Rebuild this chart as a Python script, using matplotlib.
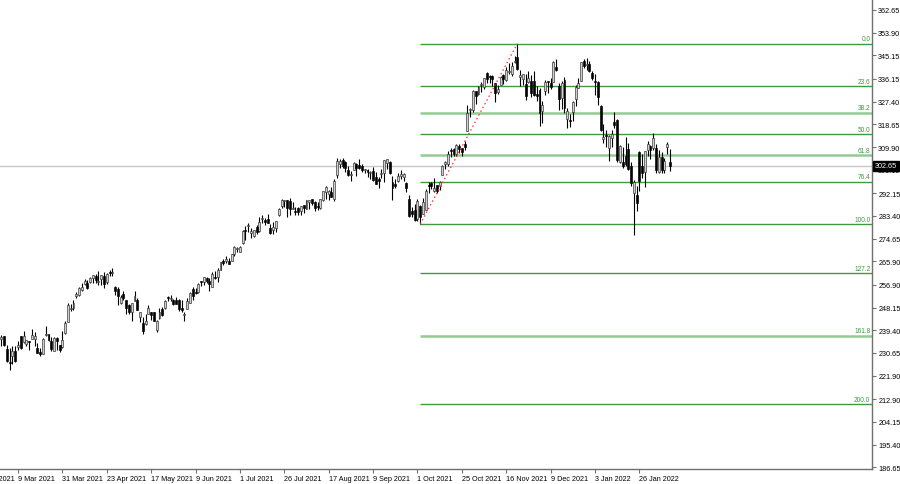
import matplotlib
matplotlib.use("Agg")
import matplotlib.pyplot as plt
import matplotlib.transforms as mtransforms
import numpy as np
import pandas as pd

plt.rcParams['font.family'] = ['Liberation Sans', 'DejaVu Sans']

# daily candles, 1 Mar 2021 .. 10 Feb 2022
holidays = ['2021-04-02', '2021-05-31', '2021-07-05', '2021-09-06',
            '2021-11-25', '2021-12-24', '2022-01-17']
dates = pd.bdate_range('2021-03-01', '2022-02-10', freq='C', holidays=holidays)

opens = [
    235.90, 237.01, 232.16, 226.74, 229.52, 231.37, 232.88, 237.00, 234.96, 234.01, 234.96, 236.15, 236.15, 232.56, 231.02, 230.27, 237.49, 237.85, 235.30, 231.55, 236.59, 233.53, 232.91,
    238.47, 242.76, 247.61, 247.81, 252.77, 252.87, 254.71, 257.26, 257.48, 257.93, 259.47, 260.19, 257.82, 258.94, 260.21, 257.88, 261.66, 261.58, 256.08, 255.46, 249.74,
    253.40, 250.97, 249.06, 246.45, 250.79, 250.87, 244.55, 242.17, 241.80, 245.58, 246.55, 246.27, 239.31, 243.96, 247.57, 247.79, 251.77, 251.43, 251.17, 251.00,
    251.23, 248.13, 245.22, 247.76, 249.98, 255.16, 253.81, 254.29, 257.99, 257.90, 259.67, 258.40, 256.07, 259.63, 259.82, 262.72, 265.99, 266.16, 266.23, 266.19, 268.87, 270.69,
    269.61, 272.82, 278.03, 279.40, 276.90, 275.72, 279.16, 277.52, 282.35, 282.00, 282.07, 278.93, 278.03, 278.90, 283.84, 287.37, 289.00, 289.43, 289.00, 286.24, 285.18,
    286.36, 285.42, 287.42, 286.22, 288.90, 289.75, 288.80, 287.21, 286.63, 289.48, 292.75, 291.95, 292.42, 289.75, 298.99, 303.25, 305.02, 304.30, 300.99, 298.99, 301.12, 303.25,
    302.87, 302.50, 301.12, 300.99, 299.78, 300.82, 298.42, 297.55, 299.56, 299.78, 303.76, 304.17, 296.33, 295.69, 296.73, 298.85, 298.23, 296.14, 289.80, 285.10, 285.71,
    282.12, 287.40, 284.05, 285.78, 295.18, 296.22, 292.92, 295.34, 294.91, 299.21, 303.57, 303.57, 308.35, 309.00, 307.36, 310.40, 309.36, 311.00, 316.00, 324.33, 324.13,
    331.36, 330.31, 333.90, 332.89, 338.51, 337.30, 337.11, 334.57, 331.13, 333.92, 337.54, 335.68, 338.94, 338.18, 342.64, 344.62, 337.05, 336.28, 334.35, 334.94, 335.32,
    335.13, 330.30, 331.99, 323.95, 331.64, 335.31, 334.41, 334.98, 340.68, 333.22, 328.61, 335.71, 320.88, 320.05, 323.29, 328.30, 332.75, 335.46, 343.15, 341.30, 341.91, 338.51,
    335.35, 334.83, 325.86, 313.15, 314.15, 309.49, 313.38, 319.67, 320.47, 304.25, 304.07, 306.29, 309.07, 302.69, 292.20, 291.52, 307.99, 302.66, 300.23, 308.95,
    310.41, 309.63, 309.49, 300.21, 306.17, 301.25, 309.87, 304.04,
]
highs = [
    237.47, 237.30, 233.58, 232.49, 233.27, 233.37, 235.38, 237.00, 239.17, 235.82, 235.19, 240.06, 238.55, 234.48, 232.47, 236.39, 241.05, 238.00, 236.94, 236.71, 236.80, 233.85, 239.10,
    242.84, 249.96, 249.40, 250.93, 254.14, 255.99, 257.67, 259.19, 258.83, 259.93, 260.82, 261.00, 262.30, 260.68, 261.78, 261.51, 262.44, 263.19, 256.54, 256.10, 253.08,
    254.35, 251.21, 249.50, 249.89, 254.35, 251.73, 246.60, 244.38, 245.60, 249.18, 246.59, 246.41, 243.23, 247.95, 248.33, 251.16, 252.75, 252.94, 251.48, 252.08,
    251.29, 250.85, 246.34, 251.65, 254.09, 256.01, 255.53, 257.46, 258.49, 259.95, 259.89, 259.33, 261.75, 262.30, 263.52, 265.79, 266.83, 267.85, 267.25, 268.90, 271.65, 271.36,
    271.84, 278.00, 279.37, 280.69, 278.73, 278.05, 279.77, 282.85, 283.66, 282.51, 284.10, 280.37, 280.97, 281.52, 286.42, 289.99, 289.69, 289.58, 290.15, 288.62, 286.66,
    286.77, 287.23, 287.59, 289.63, 289.63, 289.99, 289.25, 288.66, 289.97, 292.90, 294.82, 293.36, 294.44, 297.60, 305.84, 305.40, 305.65, 304.59, 302.43, 300.87, 304.22, 303.65,
    305.19, 303.40, 301.49, 301.60, 300.61, 302.14, 300.14, 298.54, 301.39, 304.91, 305.31, 304.50, 298.72, 297.54, 300.07, 300.90, 299.80, 296.47, 291.42, 286.77, 287.83,
    289.98, 287.75, 290.40, 293.63, 296.64, 296.64, 297.97, 295.43, 296.83, 303.11, 304.45, 308.21, 309.70, 309.54, 311.09, 311.09, 309.59, 312.40, 326.10, 324.86, 332.00,
    331.49, 333.45, 334.90, 336.54, 338.79, 337.65, 337.65, 334.63, 333.77, 337.23, 337.88, 340.67, 342.19, 342.45, 345.10, 349.67, 339.45, 338.16, 337.93, 339.03, 337.78,
    339.28, 333.49, 332.70, 327.45, 335.80, 335.50, 336.49, 343.00, 343.79, 334.64, 335.19, 336.76, 324.92, 322.80, 327.73, 333.61, 336.39, 342.48, 343.81, 344.30, 343.13, 339.36,
    338.00, 335.20, 326.07, 318.70, 316.50, 314.72, 316.61, 323.41, 320.88, 310.82, 309.80, 313.91, 311.65, 304.11, 297.11, 294.99, 308.50, 307.32, 308.48, 312.38,
    310.63, 315.12, 311.23, 308.80, 307.84, 305.56, 311.93, 309.12,
]
lows = [
    233.15, 233.45, 227.26, 224.26, 226.46, 227.13, 231.67, 232.04, 234.31, 233.23, 231.81, 235.94, 233.23, 230.61, 229.35, 230.10, 237.07, 235.32, 231.57, 231.55, 231.88, 231.10, 232.39,
    238.05, 242.70, 246.88, 247.19, 252.00, 252.44, 254.62, 256.70, 255.16, 257.73, 257.55, 257.60, 256.80, 256.84, 255.64, 257.27, 260.17, 260.12, 252.95, 249.00, 249.60,
    251.12, 245.76, 245.82, 243.00, 250.65, 247.12, 242.57, 238.07, 241.42, 245.49, 243.52, 242.90, 238.60, 243.86, 244.74, 247.51, 250.82, 250.75, 249.25, 249.56,
    246.96, 246.42, 243.00, 247.51, 249.81, 251.06, 253.21, 253.67, 256.61, 256.80, 257.67, 254.42, 256.01, 259.16, 257.92, 262.40, 264.43, 265.47, 264.76, 265.91, 267.98, 269.60,
    269.60, 272.50, 274.30, 277.15, 274.87, 275.32, 276.58, 277.39, 280.55, 279.83, 280.54, 276.38, 276.26, 277.29, 283.42, 286.50, 286.64, 282.95, 283.83, 286.08, 283.91,
    283.74, 283.65, 284.65, 286.10, 286.10, 287.62, 285.20, 285.86, 285.93, 289.16, 290.02, 289.64, 290.62, 289.29, 298.06, 301.85, 302.00, 300.42, 298.95, 296.83, 301.06, 298.93,
    301.49, 300.20, 299.97, 298.42, 297.47, 297.00, 295.61, 294.08, 298.10, 296.63, 301.64, 299.52, 289.52, 294.07, 296.50, 297.53, 296.93, 292.75, 282.92, 283.01, 281.62,
    281.29, 280.25, 284.05, 285.51, 292.30, 293.92, 292.75, 292.22, 293.55, 299.01, 301.41, 302.69, 306.11, 306.46, 306.46, 307.80, 306.53, 308.60, 316.00, 321.36, 323.54,
    326.37, 330.00, 331.09, 332.11, 334.42, 334.44, 333.27, 327.36, 330.51, 333.79, 334.03, 335.51, 338.00, 337.12, 342.20, 339.55, 333.56, 333.91, 328.12, 334.74, 328.99,
    329.39, 327.80, 318.03, 319.23, 330.10, 330.80, 332.12, 334.79, 339.08, 324.11, 324.50, 323.02, 317.25, 317.57, 319.80, 325.75, 332.73, 335.43, 340.32, 339.68, 338.82, 335.85,
    329.78, 326.12, 315.98, 311.49, 310.09, 304.69, 309.89, 317.08, 304.00, 303.75, 301.74, 302.70, 301.14, 294.81, 276.05, 285.17, 293.02, 297.93, 294.45, 306.37,
    305.13, 308.88, 299.96, 299.97, 299.90, 299.95, 307.39, 300.70,
]
closes = [
    236.94, 233.87, 227.56, 226.73, 231.60, 227.39, 233.78, 232.42, 237.13, 235.75, 234.81, 237.71, 237.04, 230.72, 230.35, 235.99, 237.58, 235.46, 232.34, 236.48, 235.24, 231.85, 235.77,
    242.35, 249.07, 247.86, 249.90, 253.25, 255.85, 255.91, 258.49, 255.59, 259.50, 260.74, 258.74, 258.26, 260.58, 257.17, 261.15, 261.55, 261.97, 254.56, 252.51, 252.18,
    251.86, 247.79, 246.47, 249.73, 252.46, 247.18, 246.23, 239.00, 243.03, 248.15, 245.18, 243.08, 243.12, 246.48, 245.17, 250.78, 251.72, 251.49, 249.31, 249.68,
    247.40, 247.30, 245.71, 250.79, 253.81, 252.57, 253.59, 257.24, 257.89, 259.89, 258.36, 257.38, 260.90, 259.43, 262.63, 265.51, 265.27, 266.69, 265.02, 268.72, 271.40, 270.90,
    271.60, 277.65, 277.66, 279.93, 277.42, 277.94, 277.32, 280.98, 282.51, 281.03, 280.75, 277.01, 279.32, 281.40, 286.14, 289.67, 289.05, 286.54, 286.22, 286.50, 284.91,
    284.82, 287.12, 286.51, 289.52, 289.46, 288.33, 286.44, 286.95, 289.81, 292.85, 294.60, 293.08, 290.73, 296.77, 304.36, 304.65, 302.62, 302.01, 299.09, 299.72, 303.59, 301.88,
    301.83, 301.15, 301.14, 300.18, 300.21, 297.25, 295.71, 296.99, 299.79, 304.82, 305.22, 299.87, 294.30, 294.80, 298.58, 299.56, 299.35, 294.17, 283.52, 284.00, 281.92,
    289.10, 283.11, 288.76, 293.11, 294.85, 294.85, 294.23, 292.88, 296.31, 302.75, 304.21, 307.29, 308.23, 307.41, 310.76, 309.16, 308.13, 310.11, 323.17, 324.35, 331.62,
    329.37, 333.13, 334.00, 336.44, 336.06, 336.99, 335.95, 330.80, 332.43, 336.72, 336.07, 339.51, 339.12, 341.27, 343.11, 339.83, 337.68, 337.91, 329.68, 336.63, 330.59,
    330.08, 329.49, 323.01, 326.19, 334.92, 334.97, 333.10, 342.54, 339.40, 328.34, 334.65, 324.90, 323.80, 319.91, 327.29, 333.20, 334.69, 342.45, 341.25, 341.95, 339.32, 336.32,
    334.75, 329.01, 316.38, 313.88, 314.04, 314.27, 314.98, 318.27, 304.80, 310.20, 302.65, 303.33, 301.60, 296.03, 296.37, 288.49, 296.71, 299.84, 308.26, 310.98,
    308.76, 313.46, 301.25, 305.94, 300.95, 304.56, 311.21, 302.65,
]

# axis labels as shown on the chart
price_ticks = [362.65, 353.90, 345.15, 336.15, 327.40, 318.65, 309.90, 301.15, 292.15,
               283.40, 274.65, 265.90, 256.90, 248.15, 239.40, 230.65, 221.90, 212.90,
               204.15, 195.40, 186.65]
label_dates = ['2021-03-09', '2021-03-31', '2021-04-23', '2021-05-17', '2021-06-09',
               '2021-07-01', '2021-07-26', '2021-08-17', '2021-09-09', '2021-10-01',
               '2021-10-25', '2021-11-16', '2021-12-09', '2022-01-03', '2022-01-26']
fib_levels = [0.0, 23.6, 38.2, 50.0, 61.8, 76.4, 100.0, 127.2, 161.8, 200.0]
fib_start = '2021-10-04'   # swing low
fib_end = '2021-11-22'     # swing high

o = np.array(opens); h = np.array(highs); l = np.array(lows); c = np.array(closes)
n = len(c)
xs = np.arange(n)
date_idx = {d.strftime('%Y-%m-%d'): i for i, d in enumerate(dates[:n])}

fig = plt.figure(figsize=(9, 4.85), dpi=100)
ax = fig.add_axes([0, 15 / 485, 872 / 900, 470 / 485])

# candles
up = c >= o
ax.vlines(xs, np.minimum(l, np.minimum(o, c)), np.maximum(h, np.maximum(o, c)),
          color='black', linewidth=0.8, zorder=3)
body = np.maximum(np.abs(c - o), 0.35)
bottom = np.minimum(o, c)
ax.bar(xs[up], body[up], bottom=bottom[up], width=0.7, color='#cfcfcf',
       edgecolor='#303030', linewidth=0.45, zorder=4)
ax.bar(xs[~up], body[~up], bottom=bottom[~up], width=0.7, color='black',
       edgecolor='black', linewidth=0.45, zorder=4)

# x range: 2.774 px per bar, 9 Mar bar at x=18 px
px_bar = 2.774
i0 = date_idx['2021-03-09']
xmin = i0 - 18 / px_bar
xmax = xmin + 872 / px_bar
ax.set_xlim(xmin, xmax)
ax.set_ylim(186.0, 366.88)

# current price line
last = c[-1]
ax.axhline(last, color='#c8c8c8', linewidth=1, zorder=1)

# fibonacci retracement
i_lo = date_idx[fib_start]
i_hi = date_idx[fib_end]
p_lo = l[i_lo]
p_hi = h[i_hi]
for lv in fib_levels:
    p = p_hi - (p_hi - p_lo) * lv / 100
    light = lv in (38.2, 61.8, 161.8)
    ax.hlines(p, i_lo, xmax, color='#93cc93' if light else '#3f9a3f',
              linewidth=1.8 if light else 1.0, zorder=2)
    ax.text(xmax - 0.6, p + 0.5, f'{lv:.1f}', ha='right', va='bottom',
            fontsize=4.7, color='#3a9a3a', zorder=5)
ax.plot([i_lo, i_hi], [p_lo, p_hi], color='#ff3030', linestyle=(0, (1.2, 2.2)),
        linewidth=0.9, zorder=5)

# axes styling
for s in ['top', 'left']:
    ax.spines[s].set_visible(False)
for s in ['right', 'bottom']:
    ax.spines[s].set_color('#707070')
    ax.spines[s].set_linewidth(1)
ax.yaxis.tick_right()
ax.set_yticks(price_ticks)
ax.set_yticklabels([f'{v:.2f}' for v in price_ticks])
ax.tick_params(axis='y', length=3, width=0.8, color='#707070', pad=1.5, labelsize=5.2)

tick_pos = [date_idx[d] for d in label_dates]
tick_lab = [pd.Timestamp(d).strftime('%d %b %Y').lstrip('0') for d in label_dates]
ax.set_xticks(tick_pos)
ax.set_xticklabels(tick_lab, ha='left')
ax.tick_params(axis='x', length=3, width=0.8, color='#707070', pad=1.5, labelsize=5.2)
# label of the previous period, cut by the left edge
ax.text(tick_pos[0] - 16, -0.012, '12 Feb 2021', transform=mtransforms.blended_transform_factory(ax.transData, ax.transAxes),
        ha='left', va='top', fontsize=5.2, clip_on=False)

# current price box
trans = mtransforms.blended_transform_factory(ax.transAxes, ax.transData)
ax.text(1.003, last, f'{last:.2f}', transform=trans, ha='left', va='center',
        fontsize=5.2, color='white', clip_on=False, zorder=10,
        bbox=dict(boxstyle='square,pad=0.25', facecolor='black', edgecolor='black'))

fig.savefig('out.png', dpi=100, facecolor='white')
